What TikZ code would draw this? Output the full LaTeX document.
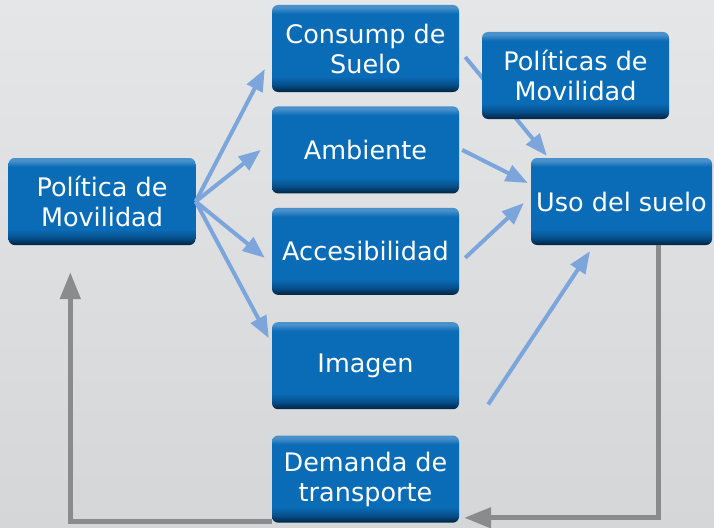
\documentclass[tikz,border=0pt]{standalone}
\usepackage{fontspec}
\usepackage{tikz}
\usetikzlibrary{arrows.meta, positioning, calc}
\newfontfamily\cajafont{DejaVu Sans}
\definecolor{fondoarriba}{HTML}{E5E6E8}
\definecolor{fondoabajo}{HTML}{D5D6D8}
\definecolor{cajaoscura}{HTML}{00233F}
\definecolor{cajamedia}{HTML}{064E8A}
\definecolor{cajaazul}{HTML}{0A6CB6}
\definecolor{cajaclara}{HTML}{4A90CB}
\definecolor{flechaazul}{HTML}{7CA6DB}
\definecolor{flechagris}{HTML}{8A8B8D}
\pgfdeclareverticalshading{cajabrillo}{100bp}{color(0bp)=(cajaoscura); color(25bp)=(cajaoscura); color(29bp)=(cajamedia); color(34bp)=(cajaazul); color(70bp)=(cajaazul); color(73.5bp)=(cajaclara); color(75bp)=(cajaclara); color(100bp)=(cajaclara)}
\tikzstyle{caja} = [rectangle, rounded corners=6pt, minimum width=187pt, minimum height=87pt, inner sep=2pt, align=center, text=white, font=\cajafont\fontsize{25.5}{30}\selectfont, shade, shading=cajabrillo, execute at end node={\\[-23pt]}]
\tikzstyle{flecha} = [line width=4pt, draw=flechaazul, -{Triangle[length=22pt, width=17pt]}]
\tikzstyle{retorno} = [line width=5pt, draw=flechagris, -{Triangle[length=27pt, width=20pt]}]

\begin{document}
\begin{tikzpicture}[x=1pt, y=1pt, node distance=14pt]

% Fondo
\fill [top color=fondoarriba, bottom color=fondoabajo] (0,0) rectangle (714,-527);
\useasboundingbox (0,0) rectangle (714,-527);

% Origen
\node (politica) [caja] at (102,-201.5) {Política de\\Movilidad};

% Columna central
\node (consumo) [caja] at (365.5,-48.5) {Consump de\\Suelo};
\node (ambiente) [caja, below=of consumo] {Ambiente};
\node (acces) [caja, below=of ambiente] {Accesibilidad};
\node (imagen) [caja, below=27pt of acces] {Imagen};
\node (demanda) [caja, below=26pt of imagen] {Demanda de\\transporte};

% Destino
\node (uso) [caja, minimum width=181pt] at (621.5,-201.5) {Uso del suelo};

% Flechas azules
\draw [flecha] (politica.east) -- ($(consumo.west)+(-7,-20.5)$);
\draw [flecha] (politica.east) -- ($(ambiente.west)+(-11,0)$);
\draw [flecha] (politica.east) -- ($(acces.west)+(-7,-6.5)$);
\draw [flecha] (politica.east) -- ($(imagen.west)+(-3,27.5)$);
\draw [flecha] ($(consumo.east)+(6,-8.5)$) -- ($(uso.north west)+(16,2)$);
\draw [flecha] ($(ambiente.east)+(3,0)$) -- ($(uso.west)+(-3,18.5)$);
\draw [flecha] ($(acces.east)+(6,-6.5)$) -- ($(uso.west)+(-7,-1.5)$);
\coordinate (libre) at ($(imagen.south east)+(29,5)$);
\draw [flecha] (libre) -- ($(uso.south)+(-31.5,-6)$);

% Retroalimentacion
\draw [retorno] ($(uso.south east)+(-54,0)$) |- ($(demanda.south east)+(5,5)$);
\draw [retorno] ($(demanda.south west)+(0,1)$) -| ($(politica.south west)+(62,-27)$);

% Encima de la flecha
\node (politicas) [caja] at (575.5,-75.5) {Políticas de\\Movilidad};

\end{tikzpicture}
\end{document}
